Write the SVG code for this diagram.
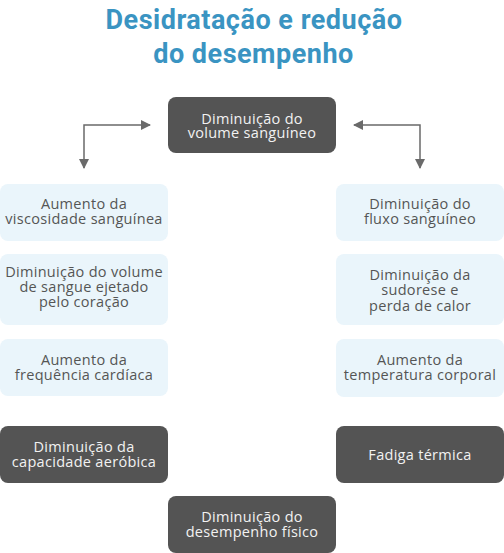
<svg xmlns="http://www.w3.org/2000/svg" width="504" height="553" viewBox="0 0 504 553">
<style>
.title{font-family:Roboto,"Liberation Sans",sans-serif;font-weight:700;font-size:27px;letter-spacing:0.5px;fill:#3a94c2;text-anchor:middle}
.t{font-family:"Open Sans","Liberation Sans",sans-serif;font-size:14.5px;letter-spacing:0.3px;text-anchor:middle}
.light rect{fill:#eaf5fb}
.light text{fill:#555555}
.dark rect{fill:#545454}
.dark text{fill:#f2f2f2}
.conn{fill:none;stroke:#6a6a6a;stroke-width:1.5}
</style>
<defs>
<marker id="ah" viewBox="0 0 10 10" refX="9" refY="5" markerWidth="10" markerHeight="10" markerUnits="userSpaceOnUse" orient="auto-start-reverse">
<path d="M0,0 L10,5 L0,10 Z" fill="#6a6a6a"/>
</marker>
</defs>
<rect width="504" height="553" fill="#ffffff"/>
<g id="title">
<text class="title" x="254" y="29">Desidratação e redução</text>
<text class="title" x="253.5" y="63">do desempenho</text>
</g>
<g id="connectors">
<polyline class="conn" points="150,125 84,125 84,168" marker-start="url(#ah)" marker-end="url(#ah)"/>
<polyline class="conn" points="354,125 420,125 420,168" marker-start="url(#ah)" marker-end="url(#ah)"/>
</g>
<g id="n-volume" class="dark">
<rect x="168" y="97" width="168" height="56" rx="8"/>
<text class="t" x="252" y="123.5">Diminuição do</text>
<text class="t" x="252" y="138">volume sanguíneo</text>
</g>
<g id="n-viscosidade" class="light">
<rect x="0" y="184" width="168" height="57" rx="8"/>
<text class="t" x="84" y="208.5">Aumento da</text>
<text class="t" x="84" y="223.5">viscosidade sanguínea</text>
</g>
<g id="n-ejecao" class="light">
<rect x="0" y="254" width="168" height="71" rx="8"/>
<text class="t" x="84" y="276.7">Diminuição do volume</text>
<text class="t" x="84" y="291.7">de sangue ejetado</text>
<text class="t" x="84" y="306.7">pelo coração</text>
</g>
<g id="n-frequencia" class="light">
<rect x="0" y="339" width="168" height="57" rx="8"/>
<text class="t" x="84" y="365">Aumento da</text>
<text class="t" x="84" y="380">frequência cardíaca</text>
</g>
<g id="n-aerobica" class="dark">
<rect x="0" y="426" width="168" height="57" rx="8"/>
<text class="t" x="84" y="452.3">Diminuição da</text>
<text class="t" x="84" y="466.7">capacidade aeróbica</text>
</g>
<g id="n-fluxo" class="light">
<rect x="336" y="184" width="168" height="57" rx="8"/>
<text class="t" x="420" y="209.3">Diminuição do</text>
<text class="t" x="420" y="224.3">fluxo sanguíneo</text>
</g>
<g id="n-sudorese" class="light">
<rect x="336" y="254" width="168" height="71" rx="8"/>
<text class="t" x="420" y="280">Diminuição da</text>
<text class="t" x="420" y="295">sudorese e</text>
<text class="t" x="420" y="310.5">perda de calor</text>
</g>
<g id="n-temperatura" class="light">
<rect x="336" y="339" width="168" height="58" rx="8"/>
<text class="t" x="420" y="365">Aumento da</text>
<text class="t" x="420" y="380">temperatura corporal</text>
</g>
<g id="n-fadiga" class="dark">
<rect x="336" y="426" width="168" height="57" rx="8"/>
<text class="t" x="420" y="460">Fadiga térmica</text>
</g>
<g id="n-desempenho" class="dark">
<rect x="168" y="496" width="168" height="57" rx="8"/>
<text class="t" x="252" y="522.3">Diminuição do</text>
<text class="t" x="252" y="536.7">desempenho físico</text>
</g>
</svg>
